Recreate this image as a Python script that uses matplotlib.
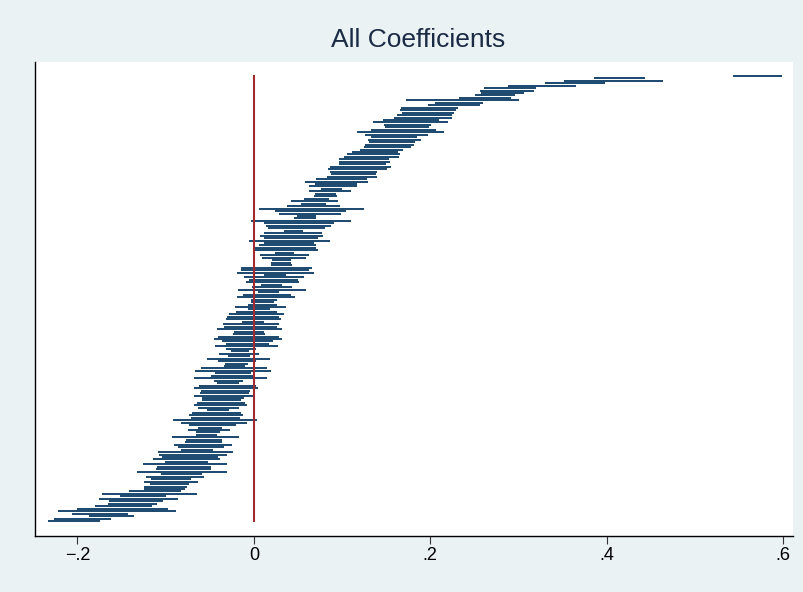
import numpy as np
import matplotlib.pyplot as plt

# confidence intervals, listed from the top row down to the bottom row
ci_lower = [0.543, 0.386, 0.351, 0.330, 0.288, 0.261, 0.256, 0.257, 0.251, 0.233, 0.173, 0.205, 0.197, 0.167, 0.166, 0.168, 0.162, 0.159, 0.146, 0.135, 0.147, 0.149,
            0.133, 0.117, 0.126, 0.133, 0.129, 0.130, 0.126, 0.125, 0.120, 0.111, 0.106, 0.102, 0.097, 0.096, 0.097, 0.086, 0.084, 0.086, 0.087, 0.083, 0.071, 0.058,
            0.069, 0.062, 0.076, 0.062, 0.069, 0.068, 0.057, 0.042, 0.054, 0.038, 0.006, 0.024, 0.028, 0.049, 0.045, -0.003, 0.011, 0.014, 0.016, 0.034, 0.011, 0.007, 0.011,
            -0.006, 0.011, 0.006, 0.001, -0.001, 0.024, 0.007, 0.009, 0.021, 0.020, 0.019, -0.014, -0.014, -0.019, 0.011, -0.011, -0.006, -0.009, 0.008, -0.002, -0.018, 0.005,
            -0.012, -0.019, -0.003, -0.003, -0.007, -0.021, -0.007, -0.020, -0.028, -0.030, -0.032, -0.013, -0.035, -0.034, -0.042, -0.023, -0.024, -0.041, -0.045, -0.036, -0.032, -0.044,
            -0.031, -0.026, -0.039, -0.029, -0.053, -0.041, -0.033, -0.034, -0.060, -0.067, -0.044, -0.048, -0.068, -0.045, -0.042, -0.062, -0.068, -0.060, -0.061, -0.068, -0.059, -0.059, -0.064,
            -0.068, -0.063, -0.053, -0.070, -0.073, -0.071, -0.092, -0.083, -0.073, -0.063, -0.075, -0.065, -0.065, -0.093, -0.077, -0.078, -0.091, -0.086, -0.083, -0.109, -0.107, -0.104,
            -0.114, -0.101, -0.126, -0.110, -0.111, -0.132, -0.105, -0.122, -0.116, -0.125, -0.118, -0.125, -0.124, -0.142, -0.172, -0.152, -0.175, -0.164, -0.165, -0.180, -0.200, -0.222, -0.206, -0.187, -0.226, -0.233]
ci_upper = [0.598, 0.443, 0.464, 0.398, 0.365, 0.320, 0.318, 0.306, 0.296, 0.292, 0.301, 0.260, 0.256, 0.231, 0.229, 0.227, 0.225, 0.225, 0.210, 0.220, 0.201, 0.198,
            0.207, 0.215, 0.197, 0.185, 0.189, 0.183, 0.182, 0.178, 0.169, 0.163, 0.166, 0.164, 0.153, 0.154, 0.150, 0.155, 0.151, 0.140, 0.138, 0.140, 0.128, 0.129,
            0.117, 0.117, 0.100, 0.110, 0.093, 0.094, 0.085, 0.095, 0.082, 0.098, 0.125, 0.104, 0.099, 0.070, 0.071, 0.110, 0.091, 0.088, 0.081, 0.056, 0.077, 0.078, 0.073,
            0.086, 0.068, 0.071, 0.071, 0.073, 0.046, 0.062, 0.059, 0.042, 0.042, 0.043, 0.066, 0.063, 0.068, 0.037, 0.057, 0.050, 0.051, 0.032, 0.043, 0.059, 0.028,
            0.042, 0.047, 0.026, 0.023, 0.026, 0.036, 0.018, 0.026, 0.034, 0.029, 0.031, 0.011, 0.029, 0.026, 0.032, 0.012, 0.013, 0.028, 0.032, 0.022, 0.017, 0.027,
            0.003, -0.005, 0.006, -0.004, 0.018, 0.003, -0.007, -0.010, 0.015, 0.020, -0.003, 0.001, 0.015, -0.012, -0.017, 0.002, 0.005, -0.004, -0.006, 0.000, -0.011, -0.014, -0.010,
            -0.008, -0.017, -0.028, -0.014, -0.012, -0.016, 0.004, -0.008, -0.020, -0.036, -0.027, -0.038, -0.042, -0.017, -0.036, -0.036, -0.025, -0.034, -0.046, -0.024, -0.030, -0.041,
            -0.038, -0.052, -0.030, -0.048, -0.048, -0.030, -0.059, -0.056, -0.071, -0.063, -0.073, -0.076, -0.078, -0.083, -0.064, -0.100, -0.086, -0.103, -0.110, -0.115, -0.097, -0.088, -0.143, -0.136, -0.162, -0.174]
xticks = [-0.2, 0, 0.2, 0.4, 0.6]
xtick_labels = ["\u2212.2", "0", ".2", ".4", ".6"]
title = "All Coefficients"

plt.rcParams['font.family'] = ['Liberation Sans', 'DejaVu Sans']

n = len(ci_lower)
rows = np.arange(n)[::-1]

fig = plt.figure(figsize=(8.04, 5.92), dpi=100, facecolor='#eaf2f3')
ax = fig.add_axes([0.0435, 0.0946, 0.9428, 0.8007], facecolor='white')

ax.hlines(rows, ci_lower, ci_upper, color='#1a476f', linewidth=1.4)
ax.vlines(0, -0.5, n - 0.5, color='#a32a2e', linewidth=1.5)

ax.set_xlim(-0.248, 0.611)
ax.set_ylim(-6.1, n + 4.6)
ax.set_xticks(xticks)
ax.set_xticklabels(xtick_labels, fontsize=13)
ax.set_yticks([])
ax.tick_params(axis='x', direction='out', length=6, width=0.8, color='#333333', pad=2)
for side in ['top', 'right']:
    ax.spines[side].set_visible(False)
for side in ['left', 'bottom']:
    ax.spines[side].set_color('black')
    ax.spines[side].set_linewidth(1.0)

fig.text(0.52, 0.932, title, ha='center', va='center', fontsize=19, color='#1c2b45')

fig.savefig('out.png', dpi=100, facecolor=fig.get_facecolor())
